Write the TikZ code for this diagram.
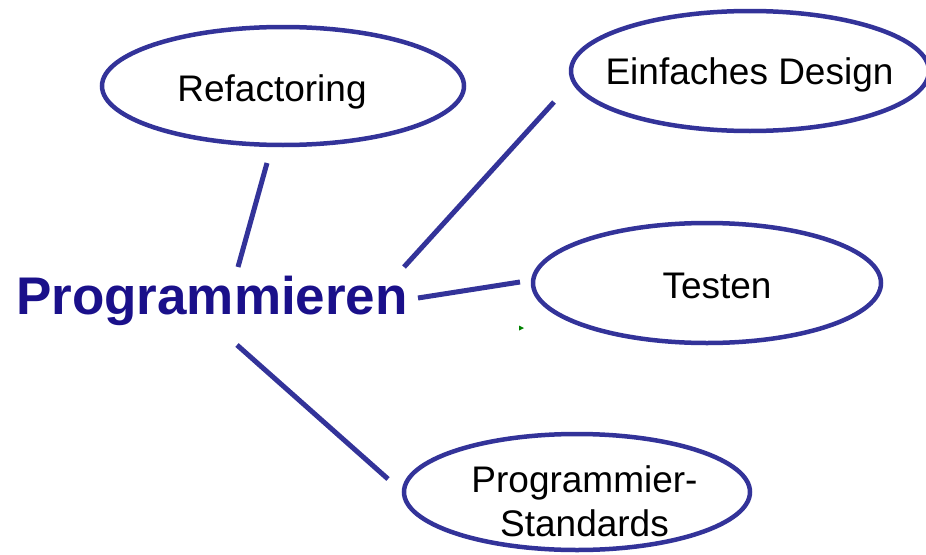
\documentclass[tikz,border=0pt]{standalone}
\usepackage{fontspec}
\setmainfont{Liberation Sans}
\usetikzlibrary{shapes.geometric}
\definecolor{edgeblue}{RGB}{51,51,153}
\definecolor{titleblue}{RGB}{26,16,138}
\definecolor{tinygreen}{RGB}{0,130,0}
\begin{document}
\begin{tikzpicture}[x=1pt,y=-1pt,
  bubble/.style={draw=edgeblue, line width=4.5pt, ellipse, inner sep=0pt},
  label/.style={anchor=base, inner sep=0pt, font=\fontsize{37}{44}\selectfont, text=black, align=center},
  link/.style={draw=edgeblue, line width=5pt}]
\useasboundingbox (0,0) rectangle (926,554);
% bubbles
\node[bubble, minimum width=362pt, minimum height=118pt] (refac) at (283,86) {};
\node[bubble, minimum width=358pt, minimum height=120pt] (design) at (750,71) {};
\node[bubble, minimum width=348pt, minimum height=120pt] (testen) at (707,283) {};
\node[bubble, minimum width=346pt, minimum height=116pt] (standards) at (577,492) {};
% labels
\node[label] (refacT) at (272,101) {Refactoring};
\node[label] (designT) at (749.5,84) {Einfaches Design};
\node[label] (testenT) at (717,298) {Testen};
\node[label] (standardsT) at (584.5,536) {Programmier-\\Standards};
\node[anchor=base, inner sep=0pt, text=titleblue, font=\fontsize{53}{60}\selectfont\bfseries] (prog) at (212,314) {Programmieren};
% connector ends
\coordinate (r1) at (267,163); \coordinate (r0) at (238,267);
\coordinate (d1) at (554,102); \coordinate (d0) at (404,267);
\coordinate (t1) at (520,282); \coordinate (t0) at (418,298);
\coordinate (s1) at (388,479); \coordinate (s0) at (237,345);
\draw[link] (r0) -- (r1);
\draw[link] (d0) -- (d1);
\draw[link] (t0) -- (t1);
\draw[link] (s0) -- (s1);
% tiny green mark
\fill[tinygreen] (519,325.5) -- (524,328) -- (519,330.5) -- cycle;
\end{tikzpicture}
\end{document}
